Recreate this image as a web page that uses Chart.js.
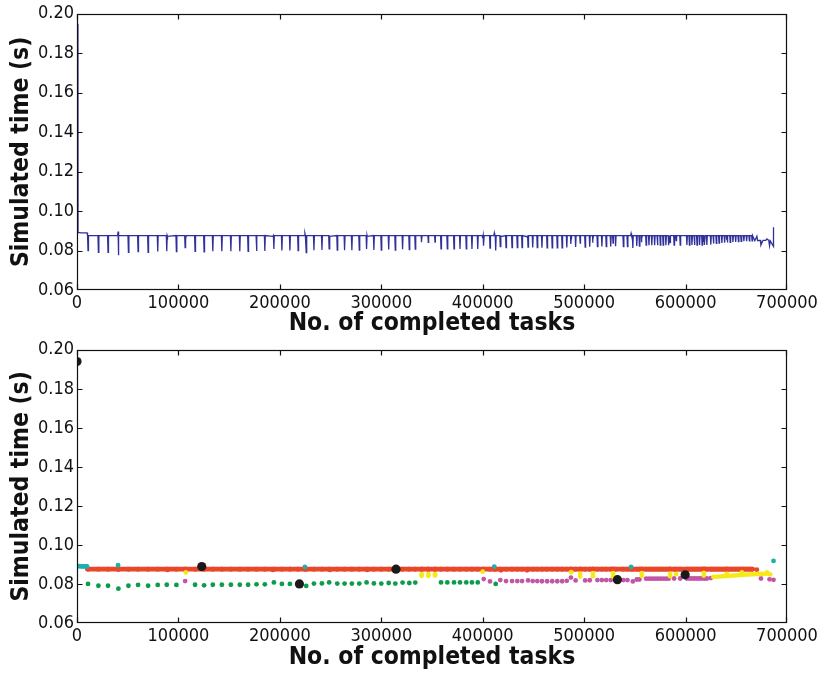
<!DOCTYPE html>
<html>
<head>
<meta charset="utf-8">
<script src="https://cdn.jsdelivr.net/npm/chart.js@4.4.0/dist/chart.umd.min.js"></script>
<style>
  html, body { margin: 0; padding: 0; background: #fff; }
  #wrap { position: relative; width: 825px; height: 673px; }
  canvas { position: absolute; left: 0; }
  #top { top: 0; }
  #bottom { top: 336px; }
</style>
</head>
<body>
<div id="wrap">
  <canvas id="top" width="825" height="336"></canvas>
  <canvas id="bottom" width="825" height="337"></canvas>
</div>
<script>
// axis ticks
const taskTicks = [0, 100000, 200000, 300000, 400000, 500000, 600000, 700000];
const timeTicks = [0.06, 0.08, 0.10, 0.12, 0.14, 0.16, 0.18, 0.20];

// first sample of the run
const startTasks = [900];
const startTimes = [0.195];

// normal level between the dips (red group), and where it stops
const plateauTime = 0.0876;
const plateauStart = 10400;
const plateauEnd = 666700;

// cyan: initial level and the short upward spikes
const cyanTasks = [1000, 2500, 4000, 5500, 7000, 8500, 9900, 40500, 224700, 411400, 546300, 686700];
const cyanTimes = [0.0891, 0.0891, 0.0890, 0.0890, 0.0890, 0.0890, 0.0890, 0.0896, 0.0887, 0.0889, 0.0887, 0.0918];

// green: deep dips, first part of the run
const greenTasks = [10860, 21100, 30600, 40800, 50700, 60200, 70100, 79600, 88500, 98000,
  116400, 125300, 133900, 142800, 151700, 160500, 168700, 177000, 185200, 194100,
  202000, 209900, 218000, 226000, 233600, 241500, 248600, 256600, 263800, 271000,
  278300, 285500, 292700, 300000, 307300, 313800, 321000, 327600, 333500,
  358900, 365100, 371700, 377600, 383800, 389400, 395100, 412800];
const greenTimes = [0.0800, 0.0791, 0.0791, 0.0776, 0.0791, 0.0795, 0.0791, 0.0795, 0.0796, 0.0795,
  0.0796, 0.0793, 0.0796, 0.0796, 0.0796, 0.0796, 0.0796, 0.0798, 0.0798, 0.0808,
  0.0800, 0.0800, 0.0800, 0.0790, 0.0802, 0.0803, 0.0808, 0.0802, 0.0802, 0.0802,
  0.0802, 0.0808, 0.0803, 0.0802, 0.0805, 0.0802, 0.0807, 0.0805, 0.0807,
  0.0808, 0.0808, 0.0808, 0.0808, 0.0808, 0.0808, 0.0808, 0.0800];

// magenta: dips, second part of the run
const magentaTasks = [106600, 401000, 407200, 417300, 423000, 428900, 434100, 438800, 444700, 449300,
  453800, 458400, 463500, 468500, 473500, 478300, 482900, 487000, 491600, 501000,
  505500, 513100, 517500, 521800, 526200, 531000, 538700, 542700, 548000, 551900,
  554500, 561100, 563900, 566700, 569500, 572300, 575100, 577900, 580600, 583300,
  588700, 594700, 601300, 603800, 606300, 608800, 611300, 613800, 616300, 618800,
  621000, 624900, 674300, 682800, 686700];
const magentaTimes = [0.0815, 0.0825, 0.0813, 0.0820, 0.0815, 0.0815, 0.0815, 0.0815, 0.0818, 0.0815,
  0.0815, 0.0814, 0.0814, 0.0814, 0.0814, 0.0814, 0.0816, 0.0833, 0.0818, 0.0818,
  0.0819, 0.0820, 0.0820, 0.0820, 0.0820, 0.0822, 0.0820, 0.0820, 0.0813, 0.0823,
  0.0823, 0.0827, 0.0827, 0.0827, 0.0827, 0.0827, 0.0827, 0.0827, 0.0827, 0.0827,
  0.0828, 0.0828, 0.0828, 0.0828, 0.0828, 0.0828, 0.0828, 0.0828, 0.0828, 0.0828,
  0.0828, 0.0830, 0.0828, 0.0824, 0.0821];

// yellow: shallow dips and the rising band at the end
const yellowTasks = [107300, 339800, 339800, 346400, 346400, 353000, 353000, 400000, 487200, 496100,
  496100, 508700, 508700, 528500, 528500, 556800, 556800, 584800, 584800, 590700,
  618000, 618000, 627500, 630300, 633000, 635800, 638500, 640700, 641200, 644000,
  646700, 649400, 652100, 654800, 655500, 657500, 660200, 662900, 665600, 668300,
  671000, 673700, 676400, 679100, 680200, 682000, 683500];
const yellowTimes = [0.0859, 0.0850, 0.0842, 0.0850, 0.0842, 0.0850, 0.0843, 0.0863, 0.0860, 0.0853,
  0.0838, 0.0855, 0.0840, 0.0855, 0.0838, 0.0856, 0.0842, 0.0853, 0.0840, 0.0850,
  0.0857, 0.0843, 0.0836, 0.0837, 0.0838, 0.0839, 0.0840, 0.0852, 0.0841, 0.0842,
  0.0843, 0.0844, 0.0845, 0.0846, 0.0859, 0.0847, 0.0848, 0.0849, 0.0849, 0.0850,
  0.0851, 0.0851, 0.0852, 0.0852, 0.0859, 0.0852, 0.0849];

// red points just off the plateau
const redExtraTasks = [89200, 193100, 249300, 286100, 418000, 443700, 655500, 670300];
const redExtraTimes = [0.0872, 0.0872, 0.0872, 0.0872, 0.0870, 0.0870, 0.0872, 0.0873];

// black: group centres
const centerTasks = [0, 123000, 219300, 314500, 532800, 599600];
const centerTimes = [0.194, 0.0889, 0.0800, 0.0876, 0.0822, 0.0847];

function pts(xs, ys) {
  return xs.map((x, i) => ({ x: x, y: ys[i] }));
}

const events = [].concat(
  pts(cyanTasks, cyanTimes),
  pts(greenTasks, greenTimes),
  pts(magentaTasks, magentaTimes),
  pts(yellowTasks, yellowTimes)
).sort((a, b) => a.x - b.x || a.y - b.y);

// plateau samples either side of each dip/spike
const plateauPoints = [];
events.forEach(p => {
  if (p.x >= plateauStart && p.x <= plateauEnd) {
    plateauPoints.push({ x: p.x - 450, y: plateauTime }, { x: p.x + 450, y: plateauTime });
  }
});
plateauPoints.sort((a, b) => a.x - b.x);
const redExtra = pts(redExtraTasks, redExtraTimes);

const topLine = pts(startTasks, startTimes).concat(events, plateauPoints, redExtra).sort((a, b) => a.x - b.x);

const FAMILY = "'DejaVu Sans Condensed', 'DejaVu Sans', sans-serif";
const tickFont = { family: FAMILY, size: 18 };
const titleFont = { family: FAMILY, size: 24.5, weight: 'bold' };

// matplotlib style frame with inward ticks on all four sides
const frameTicks = {
  id: 'frameTicks',
  afterDatasetsDraw(chart) {
    const { ctx, chartArea: a, scales: { x, y } } = chart;
    const L = Math.round(a.left) + 0.5, R = Math.round(a.right) - 0.5;
    const T = Math.round(a.top) + 0.5, B = Math.round(a.bottom) - 0.5;
    const clampX = v => Math.min(R, Math.max(L, v));
    const clampY = v => Math.min(B, Math.max(T, v));
    ctx.save();
    ctx.strokeStyle = '#111';
    ctx.lineWidth = 1.2;
    ctx.strokeRect(L, T, R - L, B - T);
    ctx.beginPath();
    x.ticks.forEach(t => {
      const px = clampX(Math.round(x.getPixelForValue(t.value)) + 0.5);
      ctx.moveTo(px, B); ctx.lineTo(px, B - 5);
      ctx.moveTo(px, T); ctx.lineTo(px, T + 5);
    });
    y.ticks.forEach(t => {
      const py = clampY(Math.round(y.getPixelForValue(t.value)) + 0.5);
      ctx.moveTo(L, py); ctx.lineTo(L + 5, py);
      ctx.moveTo(R, py); ctx.lineTo(R - 5, py);
    });
    ctx.stroke();
    ctx.restore();
  }
};

function makeOptions(topPad, xAxisHeight, titlePadBottom) {
  return {
    responsive: false,
    animation: false,
    devicePixelRatio: 1,
    layout: { padding: { top: topPad, right: 38, left: 0, bottom: 0 } },
    plugins: { legend: { display: false }, tooltip: { enabled: false } },
    scales: {
      x: {
        type: 'linear', min: 0, max: 700000,
        afterBuildTicks: s => { s.ticks = taskTicks.map(v => ({ value: v })); },
        afterFit: s => { s.height = xAxisHeight; },
        grid: { display: false, drawTicks: false },
        border: { display: false },
        ticks: { color: '#111', font: tickFont, padding: 3, maxRotation: 0, autoSkip: false, callback: v => String(v) },
        title: { display: true, text: 'No. of completed tasks', color: '#111', font: titleFont, padding: { top: 0, bottom: titlePadBottom } }
      },
      y: {
        type: 'linear', min: 0.06, max: 0.20,
        afterBuildTicks: s => { s.ticks = timeTicks.map(v => ({ value: v })); },
        afterFit: s => { s.width = 77; },
        grid: { display: false, drawTicks: false },
        border: { display: false },
        ticks: { color: '#111', font: tickFont, padding: 3, callback: v => v.toFixed(2) },
        title: { display: true, text: 'Simulated time (s)', color: '#111', font: titleFont, padding: { top: 7, bottom: 0 } }
      }
    }
  };
}

new Chart(document.getElementById('top'), {
  type: 'scatter',
  data: {
    datasets: [{
      data: topLine,
      showLine: true,
      borderColor: '#30309a',
      borderWidth: 1.3,
      pointRadius: 0,
      tension: 0
    }]
  },
  options: makeOptions(13, 46, -2),
  plugins: [frameTicks]
});

const dot = 2.4;
new Chart(document.getElementById('bottom'), {
  type: 'scatter',
  data: {
    datasets: [
      { data: pts(centerTasks, centerTimes), backgroundColor: '#1a1a1a', pointRadius: 4.6, borderWidth: 0 },
      { data: pts(cyanTasks, cyanTimes), backgroundColor: '#1cb0ad', pointRadius: dot, borderWidth: 0 },
      { data: pts(yellowTasks, yellowTimes), backgroundColor: '#f7e81a', pointRadius: dot, borderWidth: 0 },
      { data: pts(magentaTasks, magentaTimes), backgroundColor: '#c255a6', pointRadius: dot, borderWidth: 0 },
      { data: pts(greenTasks, greenTimes), backgroundColor: '#0b9c4c', pointRadius: dot, borderWidth: 0 },
      { data: redExtra, backgroundColor: '#e9472b', pointRadius: dot, borderWidth: 0 },
      { data: plateauPoints, showLine: true, borderColor: '#e9472b', borderWidth: 4.8, borderJoinStyle: 'round', borderCapStyle: 'round', backgroundColor: '#e9472b', pointRadius: dot, pointBorderWidth: 0 }
    ]
  },
  options: makeOptions(10, 50, 1),
  plugins: [frameTicks]
});
</script>
</body>
</html>
